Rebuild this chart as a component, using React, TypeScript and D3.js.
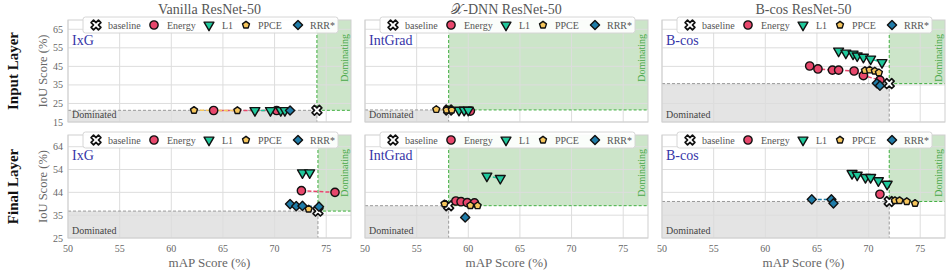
import React from "react";
import * as d3 from "d3";

// legend / series
const seriesNames = ["baseline", "Energy", "L1", "PPCE", "RRR*"];
const seriesColors: Record<string, string> = {
  baseline: "#ffffff",
  Energy: "#e8476c",
  L1: "#1fc99c",
  PPCE: "#f6c65c",
  "RRR*": "#1f7ca8",
};

const columnTitles = ["Vanilla ResNet-50", "\u{1D4B3}-DNN ResNet-50", "B-cos ResNet-50"];
const methodLabels = ["IxG", "IntGrad", "B-cos"];
const rowLabels = ["Input Layer", "Final Layer"];

const xTicks = [50, 55, 60, 65, 70, 75];
const yTicksInput = [15, 25, 35, 45, 55, 65];
const yTickLabelsInput = ["15", "25", "35", "45", "55", "65"];
const yTicksFinal = [25, 34.75, 44.5, 54.25, 64];
const yTickLabelsFinal = ["25", "35", "44", "54", "64"];

// points are [mAP, IoU]
const vanillaInput = {
  baseline: [74.1, 21.3],
  Energy: [[64.1, 21.2], [70.2, 21.2]],
  L1: [[68.1, 21.2], [69.6, 21.2], [70.6, 21.2], [71.0, 21.2]],
  PPCE: [[62.2, 21.3], [66.4, 21.2]],
  "RRR*": [[71.5, 21.2]],
};
const xdnnInput = {
  baseline: [58.1, 21.5],
  Energy: [[60.2, 20.9]],
  L1: [[59.1, 21.4], [59.6, 21.4], [60.0, 21.4]],
  PPCE: [[56.9, 21.8], [57.9, 21.5], [58.4, 21.5]],
  "RRR*": [],
};
const bcosInput = {
  baseline: [72.0, 35.7],
  Energy: [[64.3, 45.2], [65.1, 43.6], [66.5, 43.0], [67.1, 43.0], [68.6, 42.5], [69.5, 40.0], [71.1, 37.6]],
  L1: [[67.1, 53.3], [67.8, 52.2], [68.5, 51.7], [68.9, 50.7], [69.5, 50.0], [70.2, 49.0], [71.3, 47.1]],
  PPCE: [[69.65, 42.8], [70.1, 43.1], [70.6, 42.5], [71.0, 41.6]],
  "RRR*": [[70.8, 35.9], [71.1, 34.6]],
};
const vanillaFinal = {
  baseline: [74.2, 36.5],
  Energy: [[72.6, 45.2], [75.85, 44.5]],
  L1: [[72.7, 52.9], [73.4, 52.9]],
  PPCE: [[73.3, 37.4]],
  "RRR*": [[71.5, 39.5], [72.1, 38.6], [72.7, 38.7], [74.3, 38.4]],
};
const xdnnFinal = {
  baseline: [58.1, 38.8],
  Energy: [[58.8, 40.8], [59.3, 40.5], [59.9, 40.1], [60.6, 40.0]],
  L1: [[61.8, 51.5], [63.1, 50.5]],
  PPCE: [[57.7, 39.6], [60.2, 38.9], [60.9, 38.8]],
  "RRR*": [[59.7, 33.8]],
};
const bcosFinal = {
  baseline: [72.0, 40.6],
  Energy: [[71.1, 43.7]],
  L1: [[68.4, 52.6], [68.9, 51.9], [69.7, 50.9], [70.2, 50.9], [70.95, 49.5], [71.8, 48.0]],
  PPCE: [[72.55, 41.0], [73.0, 41.0], [73.7, 40.6], [74.5, 39.8]],
  "RRR*": [[64.5, 41.5], [66.4, 41.5], [66.6, 39.8]],
};

const panelData = [
  [vanillaInput, xdnnInput, bcosInput],
  [vanillaFinal, xdnnFinal, bcosFinal],
];

const COLS = [68, 365, 662];
const PW = 283;
const ROWS = [
  { top: 20, h: 102, domain: [15, 70], ticks: yTicksInput, labels: yTickLabelsInput },
  { top: 135, h: 103, domain: [25, 69], ticks: yTicksFinal, labels: yTickLabelsFinal },
];
const FONT = "'Liberation Serif', 'DejaVu Serif', serif";

const symbolPentagon = {
  draw(ctx: any, size: number) {
    const r = Math.sqrt(size / 2.378);
    for (let i = 0; i < 5; i++) {
      const a = -Math.PI / 2 + (i * 2 * Math.PI) / 5;
      if (i === 0) ctx.moveTo(r * Math.cos(a), r * Math.sin(a));
      else ctx.lineTo(r * Math.cos(a), r * Math.sin(a));
    }
    ctx.closePath();
  },
};

const markers: Record<string, { path: string; rot: number }> = {
  baseline: { path: d3.symbol(d3.symbolCross, 60)()!, rot: 45 },
  Energy: { path: d3.symbol(d3.symbolCircle, 54)()!, rot: 0 },
  L1: { path: d3.symbol(d3.symbolTriangle, 42)()!, rot: 180 },
  PPCE: { path: d3.symbol(symbolPentagon as any, 32)()!, rot: 0 },
  "RRR*": { path: d3.symbol(d3.symbolSquare, 42)()!, rot: 45 },
};

const Marker = ({ name, x, y }: { name: string; x: number; y: number }) => (
  <path
    d={markers[name].path}
    transform={`translate(${x},${y}) rotate(${markers[name].rot})`}
    fill={seriesColors[name]}
    stroke="#111"
    strokeWidth={name === "baseline" ? 1.7 : 1.4}
    strokeLinejoin="round"
  />
);

const Panel = ({ row, col }: { row: number; col: number }) => {
  const r = ROWS[row];
  const left = COLS[col];
  const right = left + PW;
  const top = r.top;
  const bottom = r.top + r.h;
  const x = d3.scaleLinear().domain([50, 77.4]).range([left, right]);
  const y = d3.scaleLinear().domain(r.domain).range([bottom, top]);
  const data: any = panelData[row][col];
  const [bx, by] = data.baseline;
  const line = d3
    .line<number[]>()
    .x((d) => x(d[0]))
    .y((d) => y(d[1]));
  const lOff = [13, 71, 126, 163, 215];
  const tOff = [25, 84, 139, 175, 227];
  const lx = left + 15;
  const ly = top - 3;

  return (
    <g>
      {/* regions */}
      <rect x={left} y={y(by)} width={x(bx) - left} height={bottom - y(by)} fill="#e4e4e4" />
      <rect x={x(bx)} y={top} width={right - x(bx)} height={y(by) - top} fill="#cce5c9" />
      {/* grid */}
      {xTicks.map((t) => (
        <line key={"gx" + t} x1={x(t)} x2={x(t)} y1={top} y2={bottom} stroke="#dddddd" strokeWidth={1} />
      ))}
      {r.ticks.map((t) => (
        <line key={"gy" + t} x1={left} x2={right} y1={y(t)} y2={y(t)} stroke="#dddddd" strokeWidth={1} />
      ))}
      {/* boundary lines */}
      <line x1={left} x2={x(bx)} y1={y(by)} y2={y(by)} stroke="#999" strokeWidth={1} strokeDasharray="3,2" />
      <line x1={x(bx)} x2={x(bx)} y1={y(by)} y2={bottom} stroke="#999" strokeWidth={1} strokeDasharray="3,2" />
      <line x1={x(bx)} x2={right} y1={y(by)} y2={y(by)} stroke="#3fae3f" strokeWidth={1} strokeDasharray="3,2" />
      <line x1={x(bx)} x2={x(bx)} y1={top} y2={y(by)} stroke="#3fae3f" strokeWidth={1} strokeDasharray="3,2" />
      <rect x={left} y={top} width={PW} height={r.h} fill="none" stroke="#cfcfcf" strokeWidth={1} />
      {/* texts in plot */}
      <text x={left + 4} y={bottom - 4} fontFamily={FONT} fontSize={10} fill="#444">
        Dominated
      </text>
      <text
        transform={`translate(${right - 3},${top + 14}) rotate(-90)`}
        textAnchor="end"
        fontFamily={FONT}
        fontSize={10}
        fill="#4aa84a"
      >
        Dominating
      </text>
      <text x={left + 4} y={top + 25} fontFamily={FONT} fontSize={14} fill="#3535a8">
        {methodLabels[col]}
      </text>
      {/* series */}
      {seriesNames.slice(1).map((s) =>
        data[s].length > 1 ? (
          <path
            key={"l" + s}
            d={line(data[s])!}
            fill="none"
            stroke={seriesColors[s]}
            strokeWidth={1.5}
            strokeDasharray="4,2"
          />
        ) : null
      )}
      <Marker name="baseline" x={x(bx)} y={y(by)} />
      {seriesNames.slice(1).map((s) =>
        data[s].map((d: number[], i: number) => <Marker key={s + i} name={s} x={x(d[0])} y={y(d[1])} />)
      )}
      {/* legend */}
      <rect x={lx} y={ly} width={255} height={16} rx={2.5} fill="#fff" fillOpacity={0.9} stroke="#d6d6d6" />
      {seriesNames.map((s, i) => (
        <g key={"lg" + s}>
          <Marker name={s} x={lx + lOff[i]} y={ly + 8} />
          <text x={lx + tOff[i]} y={ly + 11.5} fontFamily={FONT} fontSize={10} fill="#555">
            {s}
          </text>
        </g>
      ))}
      {/* axes ticks */}
      {col === 0 &&
        r.ticks.map((t, i) => (
          <text key={"yt" + t} x={left - 5} y={y(t) + 3.5} textAnchor="end" fontFamily={FONT} fontSize={10} fill="#666">
            {r.labels[i]}
          </text>
        ))}
      {row === 1 &&
        xTicks.map((t) => (
          <text key={"xt" + t} x={x(t)} y={bottom + 14} textAnchor="middle" fontFamily={FONT} fontSize={10} fill="#666">
            {t}
          </text>
        ))}
      {row === 1 && (
        <text x={(left + right) / 2} y={bottom + 29} textAnchor="middle" fontFamily={FONT} fontSize={13} fill="#666">
          mAP Score (%)
        </text>
      )}
      {row === 0 && (
        <text x={(left + right) / 2} y={14} textAnchor="middle" fontFamily={FONT} fontSize={14} fill="#555">
          {columnTitles[col]}
        </text>
      )}
      {col === 0 && (
        <>
          <text
            transform={`translate(${47},${top + r.h / 2}) rotate(-90)`}
            textAnchor="middle"
            fontFamily={FONT}
            fontSize={12.5}
            fill="#666"
          >
            IoU Score (%)
          </text>
          <text
            transform={`translate(${18},${top + r.h / 2}) rotate(-90)`}
            textAnchor="middle"
            fontFamily={FONT}
            fontSize={15}
            fontWeight="bold"
            fill="#111"
          >
            {rowLabels[row]}
          </text>
        </>
      )}
    </g>
  );
};

export default function App() {
  return (
    <svg
      width={951}
      height={274}
      viewBox="0 0 951 274"
      style={{ position: "absolute", left: 0, top: 0, background: "#fff" }}
    >
      {[0, 1].map((row) => [0, 1, 2].map((col) => <Panel key={`${row}-${col}`} row={row} col={col} />))}
    </svg>
  );
}
